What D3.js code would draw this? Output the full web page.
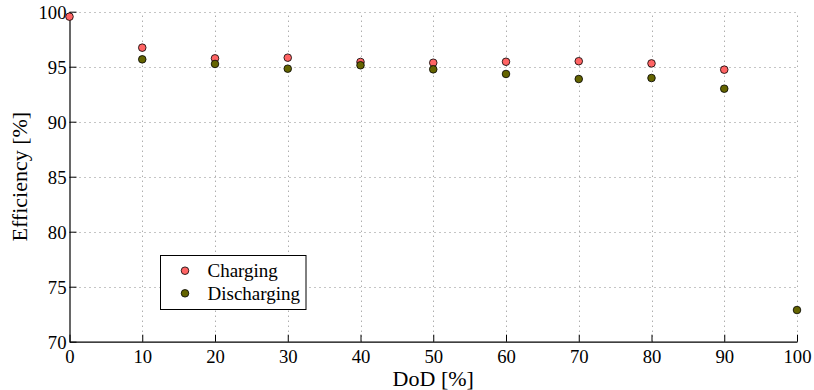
<!DOCTYPE html>
<html>
<head>
<meta charset="utf-8">
<script src="https://cdn.jsdelivr.net/npm/d3@7/dist/d3.min.js"></script>
<style>
  html, body { margin: 0; padding: 0; background: #fff; }
  svg { display: block; }
  text { font-family: "Liberation Serif", "Times New Roman", "DejaVu Serif", serif; fill: #000; }
</style>
</head>
<body>
<svg id="chart" width="814" height="390"></svg>
<script>
// ---- data ----
const chargingDoD = [0, 10, 20, 30, 40, 50, 60, 70, 80, 90];
const charging = [99.55, 96.73, 95.76, 95.82, 95.43, 95.36, 95.45, 95.5, 95.3, 94.73];
const dischargingDoD = [10, 20, 30, 40, 50, 60, 70, 80, 90, 100];
const discharging = [95.67, 95.25, 94.82, 95.13, 94.76, 94.34, 93.88, 93.97, 93.0, 72.88];
const xTicks = [0, 10, 20, 30, 40, 50, 60, 70, 80, 90, 100];
const yTicks = [70, 75, 80, 85, 90, 95, 100];
const seriesNames = ["Charging", "Discharging"];
const seriesColors = ["#ff6464", "#646400"];

// ---- layout ----
const FONT = "'Liberation Serif', 'Times New Roman', 'DejaVu Serif', serif";
const svg = d3.select("#chart");
const mLeft = 69.5, mRight = 797, mTop = 11.7, mBottom = 341.7;
const x = d3.scaleLinear().domain([0, 100]).range([mLeft, mRight]);
const y = d3.scaleLinear().domain([70, 100]).range([mBottom, mTop]);

// grid
const grid = svg.append("g").attr("stroke", "#8a8a8a").attr("stroke-width", 1)
  .attr("stroke-dasharray", "1,4").attr("fill", "none");
grid.selectAll("line.v").data(xTicks.filter(d => d > 0)).join("line")
  .attr("x1", d => Math.round(x(d)) + 0.5).attr("x2", d => Math.round(x(d)) + 0.5)
  .attr("y1", mBottom).attr("y2", mTop);
grid.selectAll("line.h").data(yTicks.filter(d => d > 70)).join("line")
  .attr("y1", d => Math.round(y(d)) + 0.5).attr("y2", d => Math.round(y(d)) + 0.5)
  .attr("x1", mLeft).attr("x2", mRight);

// axes
const xAxis = d3.axisBottom(x).tickValues(xTicks).tickSizeInner(-7).tickSizeOuter(0).tickPadding(8);
const yAxis = d3.axisLeft(y).tickValues(yTicks).tickSizeInner(-7).tickSizeOuter(0).tickPadding(3);

const gx = svg.append("g").attr("transform", `translate(0,${mBottom})`).call(xAxis);
const gy = svg.append("g").attr("transform", `translate(${mLeft},0)`).call(yAxis);
[gx, gy].forEach(g => {
  g.attr("font-family", FONT).attr("font-size", 18.7);
  g.select(".domain").attr("stroke", "#000").attr("stroke-width", 1.2);
  g.selectAll(".tick line").attr("stroke", "#000").attr("stroke-width", 1);
  g.selectAll(".tick text").style("font-family", FONT)
    .style("font-size", "18.7px").attr("fill", "#000");
});
gy.selectAll(".tick text").attr("dy", "0.34em");

// axis titles
svg.append("text").attr("x", (mLeft + mRight) / 2).attr("y", 386)
  .attr("text-anchor", "middle").style("font-family", FONT).style("font-size", "22px").text("DoD [%]");
svg.append("text").attr("transform", `translate(27,${(mTop + mBottom) / 2}) rotate(-90)`)
  .attr("text-anchor", "middle").style("font-family", FONT).style("font-size", "22px").text("Efficiency [%]");

// points
const r = 3.8;
svg.append("g").selectAll("circle").data(chargingDoD.map((d, i) => [d, charging[i]])).join("circle")
  .attr("cx", d => x(d[0])).attr("cy", d => y(d[1])).attr("r", r)
  .attr("fill", seriesColors[0]).attr("stroke", "#000").attr("stroke-width", 0.8);
svg.append("g").selectAll("circle").data(dischargingDoD.map((d, i) => [d, discharging[i]])).join("circle")
  .attr("cx", d => x(d[0])).attr("cy", d => y(d[1])).attr("r", r)
  .attr("fill", seriesColors[1]).attr("stroke", "#000").attr("stroke-width", 0.8);

// legend
const lg = svg.append("g");
lg.append("rect").attr("x", 160.5).attr("y", 255.5).attr("width", 145.5).attr("height", 54)
  .attr("fill", "#fff").attr("stroke", "#000").attr("stroke-width", 1);
seriesNames.forEach((name, i) => {
  const cy = 270.7 + i * 22.6;
  lg.append("circle").attr("cx", 185).attr("cy", cy).attr("r", r)
    .attr("fill", seriesColors[i]).attr("stroke", "#000").attr("stroke-width", 0.8);
  lg.append("text").attr("x", 207.5).attr("y", cy + 6.3).style("font-family", FONT)
    .style("font-size", "19px").text(name);
});
</script>
</body>
</html>
